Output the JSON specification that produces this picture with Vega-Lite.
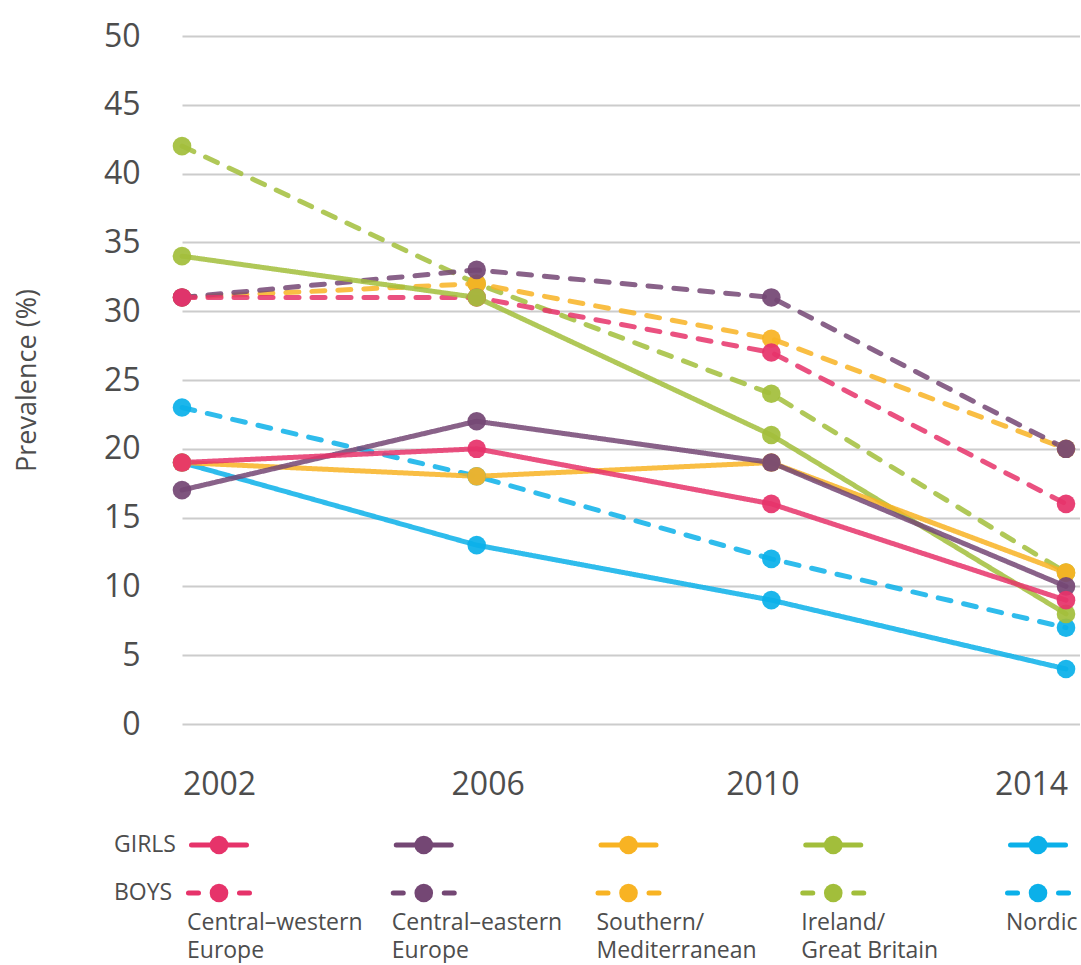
{
  "$schema": "https://vega.github.io/schema/vega-lite/v6.json",
  "padding": {"left": 13, "top": 20, "right": 0, "bottom": 0},
  "background": "white",
  "config": {"font": "Open Sans", "view": {"stroke": null}, "concat": {"spacing": 21}},
  "datasets": {
    "main": [
      {"region": "Ireland/Great Britain", "gender": "Boys", "year": 2002, "value": 42},
      {"region": "Ireland/Great Britain", "gender": "Boys", "year": 2006, "value": 32},
      {"region": "Ireland/Great Britain", "gender": "Boys", "year": 2010, "value": 24},
      {"region": "Ireland/Great Britain", "gender": "Boys", "year": 2014, "value": 11},
      {"region": "Nordic", "gender": "Boys", "year": 2002, "value": 23},
      {"region": "Nordic", "gender": "Boys", "year": 2006, "value": 18},
      {"region": "Nordic", "gender": "Boys", "year": 2010, "value": 12},
      {"region": "Nordic", "gender": "Boys", "year": 2014, "value": 7},
      {"region": "Southern/Mediterranean", "gender": "Boys", "year": 2002, "value": 31},
      {"region": "Southern/Mediterranean", "gender": "Boys", "year": 2006, "value": 32},
      {"region": "Southern/Mediterranean", "gender": "Boys", "year": 2010, "value": 28},
      {"region": "Southern/Mediterranean", "gender": "Boys", "year": 2014, "value": 20},
      {"region": "Central–eastern Europe", "gender": "Boys", "year": 2002, "value": 31},
      {"region": "Central–eastern Europe", "gender": "Boys", "year": 2006, "value": 33},
      {"region": "Central–eastern Europe", "gender": "Boys", "year": 2010, "value": 31},
      {"region": "Central–eastern Europe", "gender": "Boys", "year": 2014, "value": 20},
      {"region": "Central–western Europe", "gender": "Boys", "year": 2002, "value": 31},
      {"region": "Central–western Europe", "gender": "Boys", "year": 2006, "value": 31},
      {"region": "Central–western Europe", "gender": "Boys", "year": 2010, "value": 27},
      {"region": "Central–western Europe", "gender": "Boys", "year": 2014, "value": 16},
      {"region": "Ireland/Great Britain", "gender": "Girls", "year": 2002, "value": 34},
      {"region": "Ireland/Great Britain", "gender": "Girls", "year": 2006, "value": 31},
      {"region": "Ireland/Great Britain", "gender": "Girls", "year": 2010, "value": 21},
      {"region": "Ireland/Great Britain", "gender": "Girls", "year": 2014, "value": 8},
      {"region": "Nordic", "gender": "Girls", "year": 2002, "value": 19},
      {"region": "Nordic", "gender": "Girls", "year": 2006, "value": 13},
      {"region": "Nordic", "gender": "Girls", "year": 2010, "value": 9},
      {"region": "Nordic", "gender": "Girls", "year": 2014, "value": 4},
      {"region": "Southern/Mediterranean", "gender": "Girls", "year": 2002, "value": 19},
      {"region": "Southern/Mediterranean", "gender": "Girls", "year": 2006, "value": 18},
      {"region": "Southern/Mediterranean", "gender": "Girls", "year": 2010, "value": 19},
      {"region": "Southern/Mediterranean", "gender": "Girls", "year": 2014, "value": 11},
      {"region": "Central–eastern Europe", "gender": "Girls", "year": 2002, "value": 17},
      {"region": "Central–eastern Europe", "gender": "Girls", "year": 2006, "value": 22},
      {"region": "Central–eastern Europe", "gender": "Girls", "year": 2010, "value": 19},
      {"region": "Central–eastern Europe", "gender": "Girls", "year": 2014, "value": 10},
      {"region": "Central–western Europe", "gender": "Girls", "year": 2002, "value": 19},
      {"region": "Central–western Europe", "gender": "Girls", "year": 2006, "value": 20},
      {"region": "Central–western Europe", "gender": "Girls", "year": 2010, "value": 16},
      {"region": "Central–western Europe", "gender": "Girls", "year": 2014, "value": 9}
    ],
    "legend": [
      {"col": 0, "region": "Central–western Europe", "gender": "GIRLS", "label": "Central–western\nEurope"},
      {"col": 0, "region": "Central–western Europe", "gender": "BOYS", "label": "Central–western\nEurope"},
      {"col": 1, "region": "Central–eastern Europe", "gender": "GIRLS", "label": "Central–eastern\nEurope"},
      {"col": 1, "region": "Central–eastern Europe", "gender": "BOYS", "label": "Central–eastern\nEurope"},
      {"col": 2, "region": "Southern/Mediterranean", "gender": "GIRLS", "label": "Southern/\nMediterranean"},
      {"col": 2, "region": "Southern/Mediterranean", "gender": "BOYS", "label": "Southern/\nMediterranean"},
      {"col": 3, "region": "Ireland/Great Britain", "gender": "GIRLS", "label": "Ireland/\nGreat Britain"},
      {"col": 3, "region": "Ireland/Great Britain", "gender": "BOYS", "label": "Ireland/\nGreat Britain"},
      {"col": 4, "region": "Nordic", "gender": "GIRLS", "label": "Nordic"},
      {"col": 4, "region": "Nordic", "gender": "BOYS", "label": "Nordic"}
    ]
  },
  "vconcat": [
    {
      "width": 898,
      "height": 688,
      "data": {"name": "main"},
      "layer": [
        {
          "mark": {"type": "line", "strokeWidth": 5, "strokeCap": "round", "strokeJoin": "round", "opacity": 0.85},
          "encoding": {
            "x": {
              "field": "year", "type": "quantitative",
              "scale": {"domain": [2002, 2014.19], "nice": false, "zero": false},
              "axis": {
                "values": [2002, 2006, 2010, 2014], "format": "d", "title": null,
                "grid": false, "domain": false, "ticks": false,
                "labelFontSize": 32, "labelColor": "#4d4d4d", "labelPadding": 45,
                "labelFlush": false, "labelAlign": "center", "labelBaseline": "top",
                "labelOffset": {
                  "condition": [
                    {"test": "datum.value == 2002", "value": 37},
                    {"test": "datum.value == 2006", "value": 11},
                    {"test": "datum.value == 2010", "value": -9}
                  ],
                  "value": -35
                }
              }
            },
            "y": {
              "field": "value", "type": "quantitative",
              "scale": {"domain": [0, 50], "nice": false},
              "axis": {
                "values": [0, 5, 10, 15, 20, 25, 30, 35, 40, 45, 50],
                "grid": true, "gridColor": "#cccccc", "gridWidth": 2,
                "domain": false, "ticks": false,
                "labelFontSize": 32, "labelColor": "#4d4d4d", "labelPadding": 42,
                "title": "Prevalence (%)", "titleFontSize": 27, "titleFontWeight": "normal",
                "titleColor": "#4d4d4d", "titlePadding": 62
              }
            },
            "color": {
              "field": "region", "type": "nominal",
              "scale": {
                "domain": ["Central–western Europe", "Central–eastern Europe", "Southern/Mediterranean", "Ireland/Great Britain", "Nordic"],
                "range": ["#e6336a", "#744774", "#f8b323", "#a2be3b", "#0bb0e9"]
              },
              "legend": null
            },
            "strokeDash": {
              "field": "gender", "type": "nominal",
              "scale": {"domain": ["Girls", "Boys"], "range": [[1, 0], [13, 13]]},
              "legend": null
            }
          }
        },
        {
          "mark": {"type": "circle", "size": 346, "opacity": 0.93},
          "encoding": {
            "x": {"field": "year", "type": "quantitative"},
            "y": {"field": "value", "type": "quantitative"},
            "color": {"field": "region", "type": "nominal", "legend": null}
          }
        }
      ]
    },
    {
      "width": 898,
      "height": 96,
      "data": {"name": "legend"},
      "encoding": {
        "x": {"field": "col", "type": "quantitative", "scale": {"domain": [-0.1807, 4.205], "nice": false, "zero": false}, "axis": null},
        "y": {"field": "gender", "type": "nominal", "scale": {"domain": ["GIRLS", "BOYS"]}, "axis": null},
        "color": {
          "field": "region", "type": "nominal",
          "scale": {
            "domain": ["Central–western Europe", "Central–eastern Europe", "Southern/Mediterranean", "Ireland/Great Britain", "Nordic"],
            "range": ["#e6336a", "#744774", "#f8b323", "#a2be3b", "#0bb0e9"]
          },
          "legend": null
        }
      },
      "layer": [
        {
          "transform": [{"filter": "datum.gender == 'GIRLS'"}],
          "mark": {"type": "rule", "xOffset": -27.5, "x2Offset": 27.5, "strokeWidth": 5, "strokeCap": "round"},
          "encoding": {"x2": {"field": "col"}}
        },
        {
          "transform": [{"filter": "datum.gender == 'BOYS'"}],
          "mark": {"type": "rule", "xOffset": -30.5, "x2Offset": 30.5, "strokeWidth": 5, "strokeCap": "round", "strokeDash": [10, 41, 10]},
          "encoding": {"x2": {"field": "col"}}
        },
        {
          "mark": {"type": "circle", "size": 346, "opacity": 1}
        },
        {
          "transform": [{"filter": "datum.gender == 'BOYS'"}],
          "mark": {"type": "text", "align": "left", "baseline": "top", "dx": -32, "dy": 19, "fontSize": 23, "lineBreak": "\n", "lineHeight": 28},
          "encoding": {"text": {"field": "label"}, "color": {"value": "#4d4d4d"}}
        },
        {
          "transform": [{"filter": "datum.col == 0"}],
          "mark": {"type": "text", "align": "left", "baseline": "middle", "dx": -105, "fontSize": 23},
          "encoding": {"text": {"field": "gender"}, "color": {"value": "#4d4d4d"}}
        }
      ]
    }
  ]
}
